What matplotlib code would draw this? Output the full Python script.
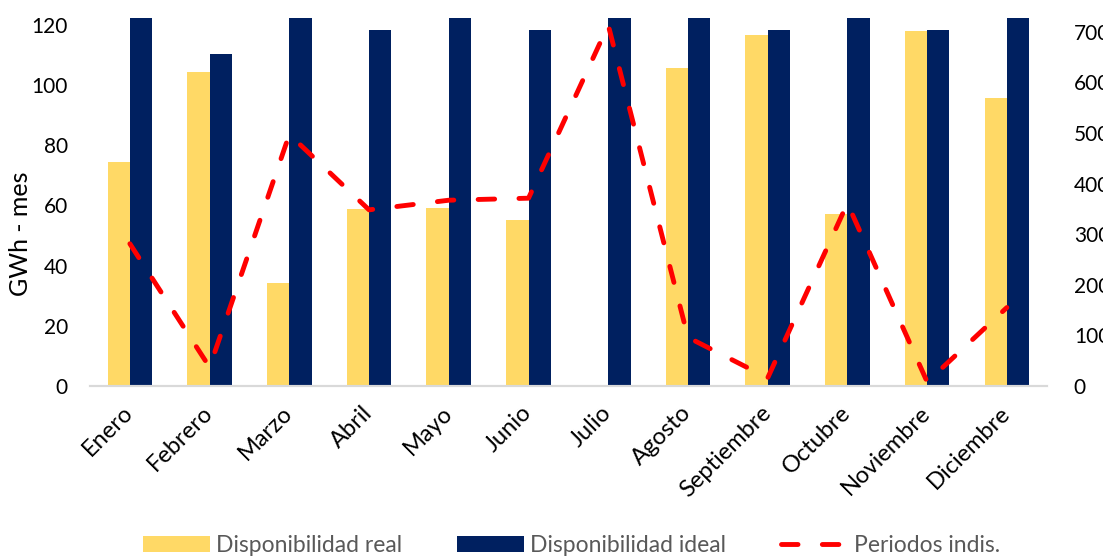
import matplotlib.pyplot as plt
import numpy as np

plt.rcParams['font.family'] = ['Lato', 'DejaVu Sans']

meses = ['Enero', 'Febrero', 'Marzo', 'Abril', 'Mayo', 'Junio', 'Julio',
         'Agosto', 'Septiembre', 'Octubre', 'Noviembre', 'Diciembre']
disp_real = [74.4, 104.5, 34.3, 58.8, 59.3, 55.2, 0.0, 105.7, 116.5, 57.2, 118.0, 95.7]
disp_ideal = [122.3, 110.5, 122.3, 118.4, 122.3, 118.4, 122.3, 122.3, 118.4, 122.3, 118.4, 122.3]
periodos = [281, 37, 497, 348, 367, 371, 713, 96, 16, 361, 8, 155]

x = np.arange(len(meses))
w = 0.28

fig = plt.figure(figsize=(11.03, 5.56), dpi=100)
ax = fig.add_axes([0.0816, 0.3058, 0.8674, 0.6618])
ax2 = ax.twinx()

ax.bar(x - w / 2, disp_real, w, color='#FFD966', label='Disponibilidad real', zorder=2)
ax.bar(x + w / 2, disp_ideal, w, color='#002060', label='Disponibilidad ideal', zorder=2)

ax2.plot(x, periodos, color='#FF0000', lw=3.5, linestyle=(0, (3.4, 5.0)),
         dash_capstyle='round', label='Periodos indis.', zorder=3)

ax.set_xlim(-0.5, len(meses) - 0.5)
ax.set_ylim(0, 122.3)
ax2.set_ylim(0, 727)
ax.set_yticks(range(0, 121, 20))
ax2.set_yticks(range(0, 701, 100))

ax.set_xticks(x)
ax.set_xticklabels(meses, rotation=45, ha='right', va='center', rotation_mode='anchor')
ax.tick_params(axis='x', length=0, pad=17, labelsize=17)
ax.tick_params(axis='y', length=0, pad=16, labelsize=15)
ax2.tick_params(axis='y', length=0, pad=19.5, labelsize=15)

ax.set_ylabel('GWh - mes', fontsize=18)
ax.yaxis.set_label_coords(-0.0606, 0.414)

for a in (ax, ax2):
    for s in ('top', 'left', 'right'):
        a.spines[s].set_visible(False)
    a.spines['bottom'].set_color('#D9D9D9')
    a.spines['bottom'].set_linewidth(1.5)

h1, l1 = ax.get_legend_handles_labels()
h2, l2 = ax2.get_legend_handles_labels()
leg = fig.legend(h1 + h2, l1 + l2, loc='center', bbox_to_anchor=(0.518, 0.018),
                 ncol=3, frameon=False, fontsize=16.5, handlelength=2.93,
                 handletextpad=0.26, columnspacing=2.4)
for t in leg.get_texts():
    t.set_color('#595959')

fig.savefig('out.png', dpi=100)
